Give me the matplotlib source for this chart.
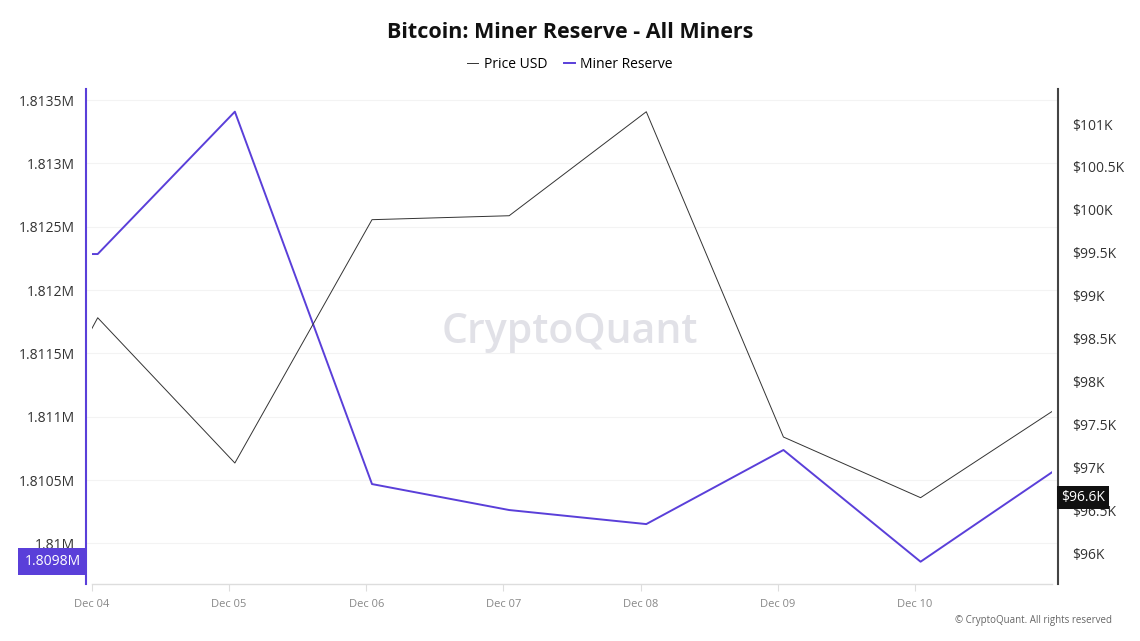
import matplotlib.pyplot as plt
import matplotlib.dates as mdates
from matplotlib.patches import Rectangle
import pandas as pd

plt.rcParams['font.family'] = ['Open Sans', 'DejaVu Sans']

# daily points (CryptoQuant stamps them ~1h after midnight); first and last are clipped
dates = pd.to_datetime(['2024-12-03', '2024-12-04', '2024-12-05', '2024-12-06', '2024-12-07',
                        '2024-12-08', '2024-12-09', '2024-12-10', '2024-12-11']) + pd.Timedelta(hours=1)
price_usd = [95790, 98742, 97049, 99885, 99931, 101143, 97352, 96645, 97693]
miner_reserve = [1812284, 1812284, 1813408, 1810468, 1810263, 1810152, 1810737, 1809855, 1810592]

reserve_ticks = [1810000, 1810500, 1811000, 1811500, 1812000, 1812500, 1813000, 1813500]
reserve_labels = ['1.81M', '1.8105M', '1.811M', '1.8115M', '1.812M', '1.8125M', '1.813M', '1.8135M']
price_ticks = [96000, 96500, 97000, 97500, 98000, 98500, 99000, 99500, 100000, 100500, 101000]
price_labels = ['$96K', '$96.5K', '$97K', '$97.5K', '$98K', '$98.5K', '$99K', '$99.5K',
                '$100K', '$100.5K', '$101K']

purple = '#5a3fd9'
dark = '#333333'

fig = plt.figure(figsize=(11.4, 6.41), dpi=100)
ax = fig.add_axes([86 / 1140, 1 - 584 / 641, 972 / 1140, 495 / 641])
ax2 = ax.twinx()

x0 = pd.Timestamp('2024-12-04')
x1 = pd.Timestamp('2024-12-11')
pad = pd.Timedelta(hours=1.05)
ax.set_xlim(x0 - pad, x1 + pad)
ax.set_ylim(1809679, 1813587)
ax2.set_ylim(95639, 101408)

clip_l = mdates.date2num(x0)
clip_w = mdates.date2num(x1) - clip_l

line_r, = ax.plot(dates, miner_reserve, color=purple, lw=1.4)
line_p, = ax2.plot(dates, price_usd, color=dark, lw=0.7)
for a, ln in ((ax, line_r), (ax2, line_p)):
    rect = Rectangle((clip_l, -1e9), clip_w, 2e9, transform=a.transData, visible=False)
    a.add_patch(rect)
    ln.set_clip_path(rect)

# axes styling
for a in (ax, ax2):
    for s in a.spines.values():
        s.set_visible(False)
ax.spines['left'].set_visible(True)
ax.spines['left'].set_color(purple)
ax.spines['left'].set_linewidth(1.5)
ax2.spines['right'].set_visible(True)
ax2.spines['right'].set_color('#444444')
ax2.spines['right'].set_linewidth(1.5)
ax.axhline(ax.get_ylim()[0], xmin=pad / (x1 - x0 + 2 * pad),
           xmax=1 - pad / (x1 - x0 + 2 * pad), color='#dddddd', lw=1, clip_on=False)

ax.set_yticks(reserve_ticks)
ax.set_yticklabels(reserve_labels)
ax.tick_params(axis='y', length=0, pad=8, labelsize=10, labelcolor=dark)
ax2.set_yticks(price_ticks)
ax2.set_yticklabels(price_labels)
ax2.tick_params(axis='y', length=0, pad=10, labelsize=10, labelcolor=dark)

ax.xaxis.set_major_formatter(mdates.DateFormatter('%b %d'))
ax.set_xticks(pd.date_range('2024-12-04', '2024-12-10'))
ax.tick_params(axis='x', length=5, color='#dddddd', labelsize=8, labelcolor='#888888', pad=6)

ax.grid(axis='y', color='#f3f3f3', lw=0.8)
ax.set_axisbelow(True)

# last value tags
ax.annotate('1.8098M', xy=(0, miner_reserve[7]), xycoords=('axes fraction', 'data'),
            xytext=(-4, 0), textcoords='offset points', ha='right', va='center',
            fontsize=10, color='white',
            bbox=dict(boxstyle='square,pad=0.45', fc=purple, ec='none'))
ax2.annotate('$96.6K', xy=(1, price_usd[7]), xycoords=('axes fraction', 'data'),
             xytext=(2, 0), textcoords='offset points', ha='left', va='center',
             fontsize=10, color='white',
             bbox=dict(boxstyle='square,pad=0.3', fc='#111111', ec='none'))

fig.text(0.5, 1 - 33 / 641, 'Bitcoin: Miner Reserve - All Miners', ha='center', va='center',
         fontsize=15.5, fontweight='bold', color='#111111')
fig.legend([line_p, line_r], ['Price USD', 'Miner Reserve'], loc='center',
           bbox_to_anchor=(0.5, 1 - 64 / 641), ncol=2, frameon=False, fontsize=10,
           handlelength=0.8, handletextpad=0.4, columnspacing=1.2)
fig.text(0.5, 1 - 332 / 641, 'CryptoQuant', ha='center', va='center', fontsize=29.5,
         color='#dcdce3', alpha=0.85, fontweight='semibold')
fig.text(1112 / 1140, 1 - 621 / 641, '© CryptoQuant. All rights reserved', ha='right',
         va='center', fontsize=7, color='#666666')

fig.savefig('out.png', dpi=100)
